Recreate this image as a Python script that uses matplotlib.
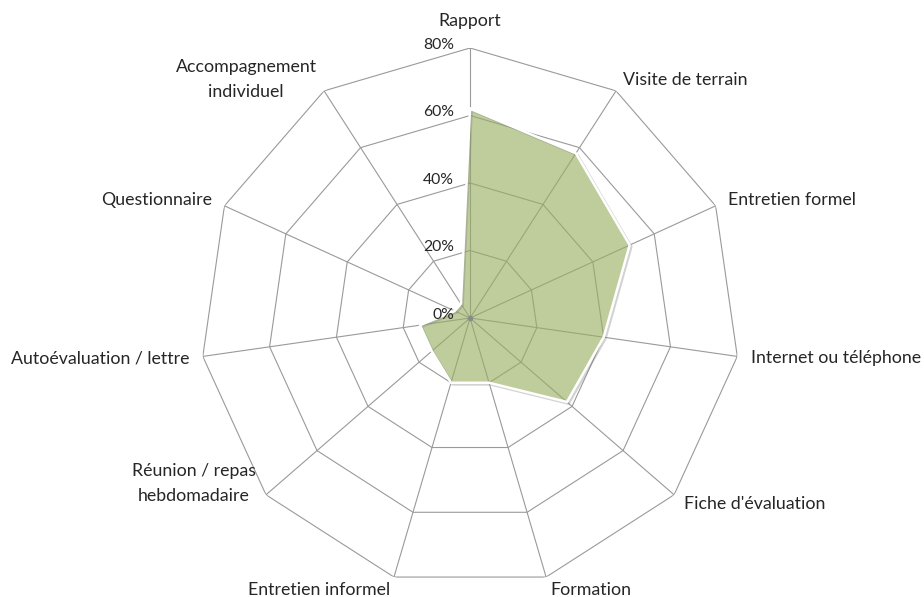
import numpy as np
import matplotlib
matplotlib.use('Agg')
import matplotlib.pyplot as plt
import matplotlib.patheffects as pe

# Categories (clockwise from top) and their shares in percent
categories = ['Rapport', 'Visite de terrain', 'Entretien formel',
              'Internet ou téléphone', "Fiche d'évaluation", 'Formation',
              'Entretien informel', 'Réunion / repas\nhebdomadaire',
              'Autoévaluation / lettre', 'Questionnaire',
              'Accompagnement\nindividuel']
values = [62, 58, 52, 40, 38, 20, 20, 15, 15, 5, 5]
ring_levels = [0, 20, 40, 60, 80]
ring_labels = ['0%', '20%', '40%', '60%', '80%']

plt.rcParams['font.family'] = ['Lato', 'DejaVu Sans']

n = len(categories)
angles = np.arange(n) * 2 * np.pi / n
closed_angles = np.append(angles, angles[0])

fig = plt.figure(figsize=(9.24, 5.97), dpi=100)
ax = fig.add_axes([0.2165, 0.0151, 0.5844, 0.9045], projection='polar')
ax.set_theta_offset(np.pi / 2)
ax.set_theta_direction(-1)
ax.set_ylim(0, 80)
ax.grid(False)
ax.spines['polar'].set_visible(False)
ax.set_xticks([])
ax.set_yticks([])

grid_col = '#9a9a9a'
txt_col = '#262626'

# Polygon rings
for lev in ring_levels[1:]:
    ax.plot(closed_angles, [lev] * (n + 1), color=grid_col, lw=0.8, zorder=1)

# Spokes
for a in angles:
    ax.plot([a, a], [0, 80], color=grid_col, lw=0.8, zorder=1)

# Data polygon
closed_vals = values + values[:1]
ax.fill(closed_angles, closed_vals, facecolor='#98AF62', alpha=0.62,
        edgecolor='none', zorder=2)
ax.plot(closed_angles, closed_vals, color='white', lw=1.8, zorder=3,
        path_effects=[pe.SimpleLineShadow(offset=(1.2, -1.2), shadow_color='#808080', alpha=0.35),
                      pe.Normal()])
ax.plot([0], [0], marker='o', ms=3, color='#8a8a8a', zorder=4)

# Ring value labels along the top spoke
for lev, lab in zip(ring_levels, ring_labels):
    ax.annotate(lab, xy=(0, lev), xytext=(-16, 3), textcoords='offset pixels',
                ha='right', va='center', fontsize=11.3, color=txt_col)

# Category labels
for a, lab in zip(angles, categories):
    s = np.sin(a)
    c = np.cos(a)
    if abs(s) < 0.1:
        ax.text(a, 88, lab, ha='center', va='center', fontsize=12.8, color=txt_col)
        continue
    ha = 'left' if s > 0 else 'right'
    va = 'center'
    if '\n' in lab and c < 0:
        va = 'bottom'
    ax.text(a, 84, lab, ha=ha, va=va, fontsize=12.8, color=txt_col,
            linespacing=1.65, multialignment='center')

fig.savefig('out.png', dpi=100)
